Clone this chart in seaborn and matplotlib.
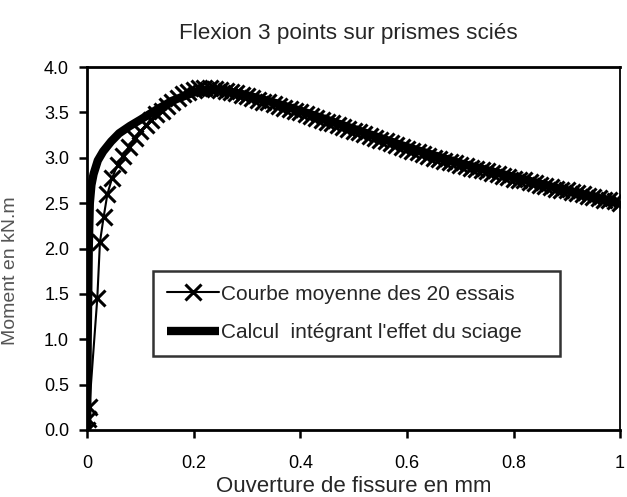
import matplotlib
matplotlib.use("Agg")
import matplotlib.pyplot as plt
import seaborn as sns

# Mean curve of the 20 tests (crosses)
essais_x = [0.0, 0.002, 0.004, 0.019, 0.024, 0.031, 0.038, 0.047, 0.057, 0.068, 0.078,
            0.09, 0.10, 0.11, 0.12, 0.13, 0.14, 0.15, 0.16, 0.17, 0.18, 0.19, 0.20,
            0.21, 0.22, 0.23, 0.24, 0.25, 0.26, 0.27, 0.28, 0.29, 0.30, 0.31, 0.32,
            0.33, 0.34, 0.35, 0.36, 0.37, 0.38, 0.39, 0.40, 0.41, 0.42, 0.43, 0.44,
            0.45, 0.46, 0.47, 0.48, 0.49, 0.50, 0.51, 0.52, 0.53, 0.54, 0.55, 0.56,
            0.57, 0.58, 0.59, 0.60, 0.61, 0.62, 0.63, 0.64, 0.65, 0.66, 0.67, 0.68,
            0.69, 0.70, 0.71, 0.72, 0.73, 0.74, 0.75, 0.76, 0.77, 0.78, 0.79, 0.80,
            0.81, 0.82, 0.83, 0.84, 0.85, 0.86, 0.87, 0.88, 0.89, 0.90, 0.91, 0.92,
            0.93, 0.94, 0.95, 0.96, 0.97, 0.98, 0.99, 1.00]
essais_y = [0.0, 0.12, 0.25, 1.45, 2.07, 2.35, 2.60, 2.78, 2.92, 3.02, 3.12,
            3.22, 3.29, 3.36, 3.42, 3.48, 3.52, 3.57, 3.62, 3.66, 3.70, 3.73, 3.75,
            3.77, 3.77, 3.77, 3.76, 3.75, 3.74, 3.72, 3.71, 3.69, 3.68, 3.66, 3.64,
            3.62, 3.61, 3.59, 3.57, 3.55, 3.54, 3.52, 3.50, 3.48, 3.46, 3.44, 3.42,
            3.40, 3.38, 3.36, 3.34, 3.32, 3.30, 3.28, 3.26, 3.24, 3.22, 3.20, 3.18,
            3.16, 3.14, 3.12, 3.10, 3.08, 3.06, 3.04, 3.02, 3.00, 2.99, 2.97, 2.95,
            2.94, 2.92, 2.91, 2.89, 2.88, 2.86, 2.85, 2.83, 2.82, 2.80, 2.79, 2.77,
            2.76, 2.75, 2.73, 2.72, 2.70, 2.69, 2.68, 2.66, 2.65, 2.64, 2.62, 2.61,
            2.60, 2.58, 2.57, 2.56, 2.54, 2.53, 2.52, 2.50]

# Calculation including the sawing effect (thick line)
calcul_x = [0.0, 0.001, 0.003, 0.005, 0.008, 0.012, 0.02, 0.03, 0.045, 0.06, 0.08,
            0.10, 0.13, 0.16, 0.20, 0.25, 0.30, 0.35, 0.40, 0.45, 0.50, 0.60, 0.70,
            0.80, 0.90, 1.00]
calcul_y = [0.0, 1.0, 2.0, 2.5, 2.7, 2.82, 2.97, 3.07, 3.18, 3.27, 3.35,
            3.42, 3.53, 3.63, 3.72, 3.75, 3.69, 3.61, 3.52, 3.42, 3.32, 3.12, 2.94,
            2.79, 2.64, 2.50]

x_ticks = [0, 0.2, 0.4, 0.6, 0.8, 1.0]
x_labels = ["0", "0.2", "0.4", "0.6", "0.8", "1"]
y_ticks = [0.0, 0.5, 1.0, 1.5, 2.0, 2.5, 3.0, 3.5, 4.0]

sns.set_theme(style="ticks")
plt.rcParams["font.family"] = ["Liberation Sans", "DejaVu Sans"]

fig, ax = plt.subplots(figsize=(6.27, 4.97), dpi=100)
fig.subplots_adjust(left=0.139, right=0.989, top=0.865, bottom=0.135)

sns.lineplot(x=essais_x, y=essais_y, ax=ax, sort=False, estimator=None,
             color="black", linewidth=1.5, marker="x", markersize=11,
             markeredgewidth=2.2, markeredgecolor="black",
             label="Courbe moyenne des 20 essais")
sns.lineplot(x=calcul_x, y=calcul_y, ax=ax, sort=False, estimator=None,
             color="black", linewidth=6, solid_capstyle="butt",
             label="Calcul  intégrant l'effet du sciage")

ax.set_xlim(0, 1)
ax.set_ylim(0, 4)
ax.set_xticks(x_ticks)
ax.set_xticklabels(x_labels)
ax.set_yticks(y_ticks)
ax.set_yticklabels([f"{v:.1f}" for v in y_ticks])
ax.tick_params(direction="out", length=6, width=1.8, labelsize=13, colors="black")
ax.tick_params(axis="y", pad=7)
ax.tick_params(axis="x", pad=12)
for s in ax.spines.values():
    s.set_visible(True)
    s.set_linewidth(2)
    s.set_color("black")
ax.spines["right"].set_linewidth(1.3)

ax.set_title("Flexion 3 points sur prismes sciés", fontsize=16.2, pad=20, x=0.49)
ax.set_xlabel("Ouverture de fissure en mm", fontsize=16)
ax.xaxis.set_label_coords(0.5, -0.126)
ax.set_ylabel("Moment en kN.m", fontsize=14, color="#555555")
ax.yaxis.set_label_coords(-0.128, 0.44)

leg = ax.legend(loc="upper left", bbox_to_anchor=(0.124, 0.209, 0.764, 0.229),
                mode="expand", fontsize=15, frameon=True, fancybox=False,
                handlelength=2.5, handletextpad=0.1, borderpad=0.65,
                labelspacing=0.95, borderaxespad=0)
leg.get_frame().set_edgecolor("black")
leg.get_frame().set_linewidth(1.8)

fig.savefig("out.png", dpi=100)
